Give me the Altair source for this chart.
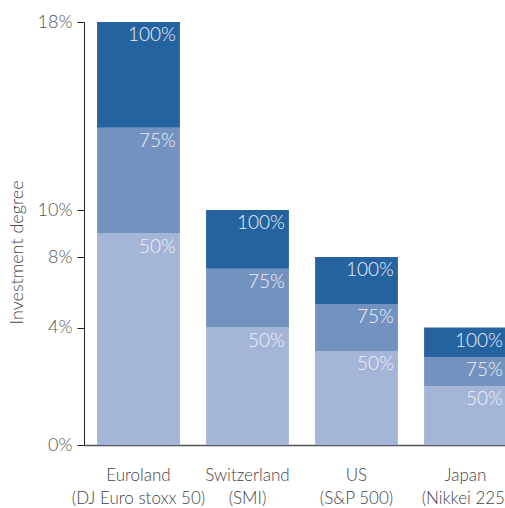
import altair as alt
import pandas as pd

categories = ["Euroland|(DJ Euro stoxx 50)", "Switzerland|(SMI)", "US|(S&P 500)", "Japan|(Nikkei 225)"]
totals = [18, 10, 8, 5]
segments = ["50%", "75%", "100%"]
seg_fracs = [0.5, 0.75, 1.0]
seg_colors = ["#a5b5d8", "#7392c0", "#2563a0"]
tick_values = [0, 5, 8, 10, 18]
tick_labels = ["0%", "4%", "8%", "10%", "18%"]

rows = []
for c, t in zip(categories, totals):
    lo = 0.0
    for s, f in zip(segments, seg_fracs):
        rows.append({"cat": c, "seg": s, "lo": lo, "hi": t * f})
        lo = t * f
df = pd.DataFrame(rows)

label_expr = "{" + ",".join(f"'{v}':'{l}'" for v, l in zip(tick_values, tick_labels)) + "}[datum.value]"

FONT = "Lato"
W = 300

xscale = alt.Scale(domain=categories, range=[0, 436], paddingInner=0.24, paddingOuter=0.12)
yscale = alt.Scale(domain=[0, 18], nice=False, zero=True)

base = alt.Chart(df)

bars = base.mark_bar().encode(
    x=alt.X("cat:N", scale=xscale, sort=categories,
            axis=alt.Axis(title=None, labelExpr="split(datum.label, '|')", labelAngle=0,
                          ticks=False, domainColor="#555555", domainWidth=1.5,
                          labelFont=FONT, labelFontSize=17, labelFontWeight=W, labelColor="#444444",
                          labelPadding=22, labelLineHeight=23, labelBaseline="top")),
    y=alt.Y("lo:Q", scale=yscale,
            axis=alt.Axis(title="Investment degree", values=tick_values, labelExpr=label_expr,
                          grid=False, domainColor="#222222", tickColor="#222222",
                          tickSize=7, labelFont=FONT, labelFontSize=18, labelFontWeight=W,
                          labelColor="#555555",
                          labelPadding=5, titleFont=FONT, titleFontSize=18,
                          titleFontWeight=W, titleColor="#444444", titleX=-67, titleY=230,
                          titleAngle=270, titleAlign="center", titleBaseline="middle")),
    y2="hi:Q",
    color=alt.Color("seg:N", scale=alt.Scale(domain=segments, range=seg_colors), legend=None),
)

texts = base.mark_text(align="right", baseline="top", dx=-4, dy=4, font=FONT,
                       fontSize=19, fontWeight=W, color="#eef1f7").encode(
    x=alt.X("cat:N", scale=xscale, sort=categories, bandPosition=1),
    y=alt.Y("hi:Q", scale=yscale),
    text="seg:N",
)

chart = (bars + texts).properties(
    width=421, height=423,
    autosize=alt.AutoSizeParams(type="none"),
    padding={"left": 84, "top": 22, "right": 0, "bottom": 63},
    background="white",
).configure_view(stroke=None)

chart.save("out.html", embed_options={"renderer": "svg", "actions": False})
